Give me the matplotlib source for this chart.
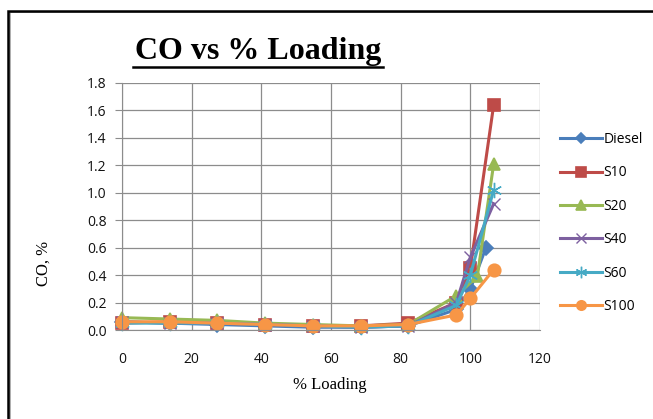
import matplotlib
matplotlib.use("Agg")
import matplotlib.pyplot as plt
from matplotlib.lines import Line2D
from matplotlib.patches import Rectangle

# Data
x_common = [0, 13.7, 27.4, 41.1, 54.8, 68.5, 82.2, 96, 100, 106.7]
x_diesel = [0, 13.7, 27.4, 41.1, 54.8, 68.5, 82.2, 96, 100, 104.5]
x_s20 = [0, 13.7, 27.4, 41.1, 54.8, 68.5, 82.2, 96, 102, 106.7]

diesel = [0.06, 0.05, 0.04, 0.03, 0.02, 0.02, 0.03, 0.15, 0.30, 0.60]
s10 = [0.05, 0.06, 0.05, 0.04, 0.03, 0.03, 0.05, 0.20, 0.45, 1.64]
s20 = [0.09, 0.08, 0.07, 0.05, 0.04, 0.03, 0.04, 0.25, 0.39, 1.21]
s40 = [0.06, 0.05, 0.05, 0.04, 0.03, 0.02, 0.03, 0.20, 0.53, 0.92]
s60 = [0.05, 0.05, 0.05, 0.04, 0.03, 0.02, 0.03, 0.18, 0.40, 1.02]
s100 = [0.06, 0.06, 0.05, 0.04, 0.03, 0.03, 0.04, 0.11, 0.23, 0.44]

x_ticks = [0, 20, 40, 60, 80, 100, 120]
y_ticks = [0.0, 0.2, 0.4, 0.6, 0.8, 1.0, 1.2, 1.4, 1.6, 1.8]

W, H = 653, 419
fig = plt.figure(figsize=(W / 100, H / 100), dpi=100)

# outer border
fig.add_artist(Rectangle((9.5 / W, -0.1), 2.0, (H - 12.5) / H + 0.1, transform=fig.transFigure,
                         fill=False, edgecolor="#a0a0a0", linewidth=1.2))
fig.add_artist(Rectangle((8 / W, -0.1), 2.0, (H - 11) / H + 0.1, transform=fig.transFigure,
                         fill=False, edgecolor="black", linewidth=1.8))

ax = fig.add_axes([122 / W, (H - 330) / H, (540 - 122) / W, (330 - 83) / H])

series = [
    ("Diesel", x_diesel, diesel, "#4A7EBB", "D", 7, 1.2),
    ("S10", x_common, s10, "#BE4B48", "s", 9, 1.2),
    ("S20", x_s20, s20, "#98B954", "^", 9, 1.2),
    ("S40", x_common, s40, "#7D60A0", "x", 9, 1.0),
    ("S60", x_common, s60, "#46AAC5", (6, 2, 0), 11, 1.0),
    ("S100", x_common, s100, "#F79646", "o", 9, 1.2),
]
for name, xs, ys, c, m, ms, mew in series:
    ax.plot(xs, ys, color=c, linewidth=2.2, marker=m, markersize=ms,
            markeredgecolor=c, markerfacecolor=c, markeredgewidth=mew, label=name,
            clip_on=False)

ax.set_xlim(0, 120)
ax.set_ylim(0, 1.8)
ax.set_xticks(x_ticks)
ax.set_yticks(y_ticks)
ax.set_yticklabels([f"{v:.1f}" for v in y_ticks])
ax.grid(True, color="#8c8c8c", linewidth=0.9)
ax.set_axisbelow(True)
for s in ["top", "right"]:
    ax.spines[s].set_visible(False)
ax.spines["left"].set_color("#8c8c8c")
ax.spines["bottom"].set_color("#8c8c8c")
ax.tick_params(axis="y", length=5, color="#8c8c8c", labelsize=10, pad=6)
ax.tick_params(axis="x", length=0, labelsize=10, pad=16)
for lab in ax.get_xticklabels() + ax.get_yticklabels():
    lab.set_fontfamily("Open Sans")
    lab.set_color("#111111")

leg = ax.legend(loc="upper left", bbox_to_anchor=(553 / W, (H - 125) / H),
                bbox_transform=fig.transFigure, frameon=False,
                prop={"family": "Open Sans", "size": 10}, labelspacing=1.33,
                handlelength=3.0, handletextpad=0.15, borderpad=0, markerscale=0.75)

fig.text(258 / W, (H - 51) / H, "CO vs % Loading", ha="center", va="center",
         fontfamily="Liberation Serif", fontweight="bold", fontsize=23)
fig.add_artist(Line2D([133 / W, 383 / W], [(H - 67) / H, (H - 67) / H],
                      transform=fig.transFigure, color="black", linewidth=1.8))

fig.text(330 / W, (H - 385) / H, "% Loading", ha="center", va="center",
         fontfamily="Liberation Serif", fontsize=12)
fig.text(44 / W, (H - 263) / H, "CO, %", ha="center", va="center", rotation=90,
         fontfamily="Liberation Serif", fontsize=12)

fig.savefig("out.png", dpi=100)
